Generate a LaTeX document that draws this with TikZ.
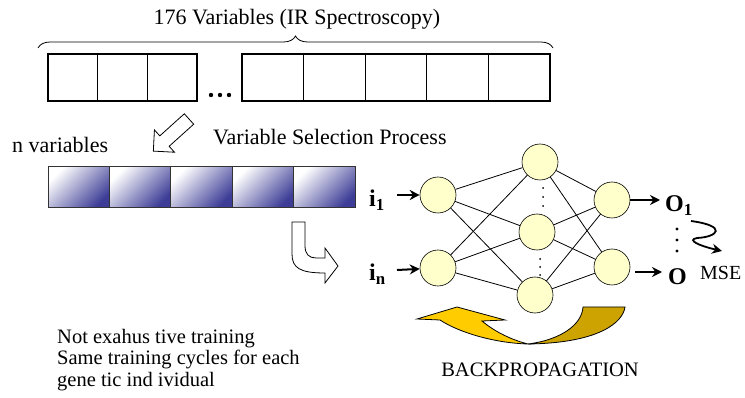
\documentclass[tikz,border=0pt]{standalone}
\usepackage{fontspec}
\setmainfont{Liberation Serif}
\usetikzlibrary{arrows.meta,calc,decorations.pathreplacing}
\definecolor{cellnavy}{RGB}{40,40,140}
\definecolor{neuronfill}{RGB}{255,255,204}
\definecolor{bpyellow}{RGB}{255,204,0}
\definecolor{bpgold}{RGB}{204,163,0}
\tikzset{
  neuron/.style={circle, draw, line width=0.6pt, fill=neuronfill, minimum size=36pt, inner sep=0pt},
  synapse/.style={line width=0.8pt},
  feed/.style={-{Stealth[length=10pt,width=10pt]}, line width=2pt},
  txt/.style={inner sep=0pt, font=\fontsize{22}{26}\selectfont},
  lbl/.style={inner sep=0pt, font=\fontsize{24}{28}\selectfont\bfseries},
}
\newcommand{\hollowarr}[2]{% hollow block arrow starting at (#1), pointing at angle #2
  \begin{scope}[shift={(#1)}, rotate=#2]
    \draw[line width=0.8pt, fill=white] (0,-7) -- (33,-7) -- (33,-15) -- (48,0)
      -- (33,15) -- (33,7) -- (0,7) -- cycle;
  \end{scope}
}
\newcommand{\dotcol}[4]{% three dots at x=#1, from y=#2, step #3, radius #4
  \foreach \k in {0,1,2} \fill (#1,#2+\k*#3) circle (#4);
}

\begin{document}
\begin{tikzpicture}[x=1pt,y=-1pt]
  \useasboundingbox (0,0) rectangle (745,398);
  % all 176 variables
  \node[txt, anchor=base] (title) at (297,25) {176 Variables (IR Spectroscopy)};
  \draw[decorate, decoration={brace, amplitude=12pt}, line width=0.8pt] (38,48) -- (553,48);
  \foreach \i in {0,1,2} \draw[line width=1.1pt] (48+\i*49.67,54) rectangle ++(49.67,47);
  \foreach \i in {0,...,4} \draw[line width=1.1pt] (242+\i*61.6,54) rectangle ++(61.6,47);
  \foreach \x in {211,220,229} \fill (\x,95) circle (2.2);
  % selected variables
  \hollowarr{189,119}{222}
  \node[txt, anchor=base west] (selproc) at (213,145) {Variable Selection Process};
  \node[txt, anchor=base west] (nvars) at (12,153) {n variables};
  \foreach \i in {0,...,4}
    \draw[draw=black!80, line width=1pt, top color=white, middle color=cellnavy!18,
      bottom color=cellnavy!90, shading angle=45] (48+\i*61.4,167) rectangle ++(61.4,41);
  \draw[line width=0.8pt, fill=white] (292,222) -- (292,254)
    .. controls (292,268) and (300,273) .. (325,273) -- (325,283) -- (338,266)
    -- (325,248) -- (325,258) -- (316,258) .. controls (309,258) and (305,254) .. (305,246)
    -- (305,222) -- cycle;
  % network
  \node[neuron] (in1) at (438,195) {};
  \node[neuron] (in2) at (438,268) {};
  \node[neuron] (hid1) at (540,162) {};
  \node[neuron] (hid2) at (537,232) {};
  \node[neuron] (hid3) at (535,295) {};
  \node[neuron] (out1) at (612,200) {};
  \node[neuron] (out2) at (612,267) {};
  \foreach \a in {1,2} \foreach \b in {1,2,3} \draw[synapse] (in\a) -- (hid\b);
  \foreach \b in {1,2,3} \foreach \c in {1,2} \draw[synapse] (hid\b) -- (out\c);
  \dotcol{543}{188}{9}{1}
  \dotcol{540}{259}{8}{1}
  \dotcol{677}{229}{11}{1.6}
  \node[lbl, anchor=base west] (lab-i1) at (369,207) {i\textsubscript{1}};
  \node[lbl, anchor=base west] (lab-in) at (369,281) {i\textsubscript{n}};
  \coordinate (i1-tail) at (397,195);
  \coordinate (in-tail) at (397,270);
  \draw[feed] (i1-tail) -- (in1);
  \draw[feed] (in-tail) -- (in2);
  \coordinate (o1-head) at (660,200);
  \coordinate (o2-tail) at (635,272);
  \coordinate (o2-head) at (662,272);
  \draw[feed] (out1) -- (o1-head);
  \draw[feed] (o2-tail) -- (o2-head);
  \node[lbl, anchor=base west] (lab-o1) at (665,212) {O\textsubscript{1}};
  \node[lbl, anchor=base west] (lab-o) at (668,285) {O};
  \coordinate (mse-start) at (691,221);
  \coordinate (mse-end) at (722,251);
  \draw[feed, line width=1.8pt] (mse-start) .. controls (728,226) and (718,237) .. (697,238)
    .. controls (686,240) and (700,246) .. (mse-end);
  \node[inner sep=0pt, font=\fontsize{20}{24}\selectfont, anchor=base west] (mse) at (700,280) {MSE};
  % backpropagation arrow
  \draw[line width=0.8pt, fill=bpgold] (625,307) .. controls (623,322) and (600,343) .. (528,344)
    .. controls (560,340) and (582,325) .. (583,307) -- cycle;
  \draw[line width=0.8pt, fill=bpyellow] (528,344) .. controls (495,343) and (460,333) .. (440,320)
    -- (417,319) -- (457,307) -- (505,320) -- (482,321)
    .. controls (495,332) and (512,340) .. (528,344) -- cycle;
  \node[inner sep=0pt, font=\fontsize{20.5}{24}\selectfont, anchor=base] (bplabel) at (540,377) {BACKPROPAGATION};
  \node[inner sep=0pt, font=\fontsize{20.5}{21.5}\selectfont, anchor=base west, align=left] (notes) at (57,386)
    {Not exahus tive training\\Same training cycles for each\\gene tic ind ividual};
\end{tikzpicture}
\end{document}
